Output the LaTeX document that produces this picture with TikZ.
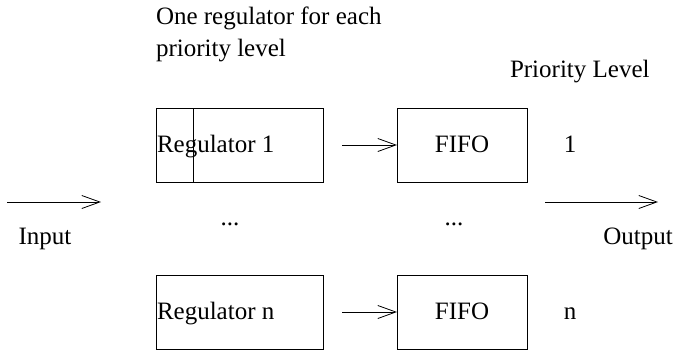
\documentclass[tikz,border=0pt]{standalone}
\usepackage{fontspec}
\setmainfont{Liberation Serif}
\usetikzlibrary{arrows.meta}
\begin{document}
\begin{tikzpicture}[x=1pt,y=-1pt,font=\fontsize{25}{30}\selectfont,
  box/.style={draw,line width=0.8pt,minimum width=167pt,minimum height=74pt,inner sep=0pt,outer sep=0pt},
  fifo/.style={draw,line width=0.8pt,minimum width=130pt,minimum height=74pt,inner sep=0pt,outer sep=0pt},
  txt/.style={inner sep=0pt,outer sep=0pt},
  arr/.style={line width=0.8pt,-{Straight Barb[length=18pt,width=13pt,line width=0.8pt]}}]
\useasboundingbox (0,0) rectangle (675,351);
% top annotation
\node[txt,anchor=base west] (note1) at (156,24) {One regulator for each};
\node[txt,anchor=base west] (note2) at (156,56) {priority level};
\node[txt,anchor=base west] (plevel) at (510,77) {Priority Level};
% boxes
\node[box] (reg1) at (239.5,145) {};
\node[box] (regn) at (239.5,312) {};
\node[fifo] (fifo1) at (462,145) {};
\node[fifo] (fifon) at (462,312) {};
\draw[line width=0.8pt] ([xshift=37pt]reg1.north west) -- ([xshift=37pt]reg1.south west);
\node[txt,anchor=base west] (reg1t) at (157,152) {Regulator 1};
\node[txt,anchor=base west] (regnt) at (157,319) {Regulator n};
\node[txt,anchor=base] (fifo1t) at (fifo1 |- 0,152) {FIFO};
\node[txt,anchor=base] (fifont) at (fifon |- 0,319) {FIFO};
\node[txt,anchor=base] (l1) at (570,152) {1};
\node[txt,anchor=base] (ln) at (570,319) {n};
% dots
\node[txt,anchor=base] (dots1) at (230,225) {...};
\node[txt,anchor=base] (dots2) at (454,225) {...};
% arrows between
\draw[arr,shorten <=19pt] (reg1.east) -- (fifo1.west);
\draw[arr,shorten <=19pt] (regn.east) -- (fifon.west);
% input / output
\coordinate (inA) at (7,202);
\coordinate (inB) at (101,202);
\coordinate (outA) at (545,202);
\coordinate (outB) at (658,202);
\draw[arr] (inA) -- (inB);
\draw[arr] (outA) -- (outB);
\node[txt,anchor=base] (input) at (45,244) {Input};
\node[txt,anchor=base] (output) at (638,244) {Output};
\end{tikzpicture}
\end{document}
